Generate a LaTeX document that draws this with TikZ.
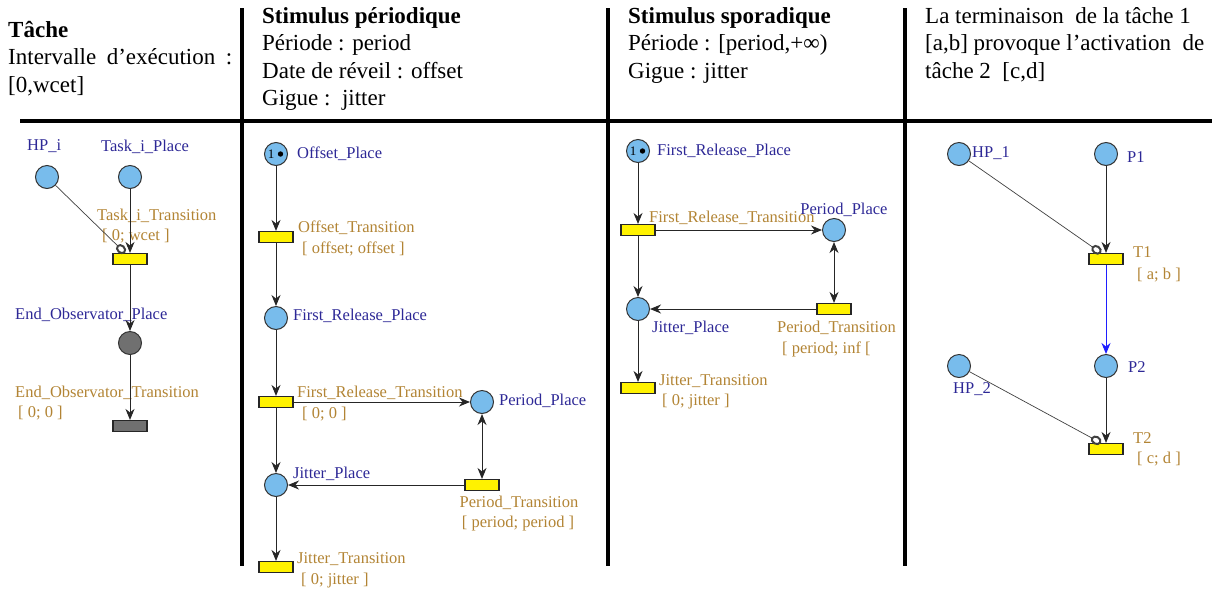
\documentclass[tikz,border=0pt]{standalone}
\usepackage{fontspec}
\setmainfont{Liberation Serif}
\usetikzlibrary{arrows.meta,calc}
\definecolor{placefill}{RGB}{120,188,236}
\definecolor{placetext}{RGB}{45,40,150}
\definecolor{transtext}{RGB}{178,132,52}
\definecolor{obsgray}{RGB}{112,112,112}
\definecolor{arcblue}{RGB}{30,30,255}
\begin{document}
\begin{tikzpicture}[x=1pt,y=-1pt,
  place/.style={circle,draw=black!80,fill=placefill,minimum size=23pt,inner sep=0pt,line width=1pt},
  gplace/.style={place,fill=obsgray},
  trans/.style={rectangle,draw=black!85,fill=yellow,minimum width=34pt,minimum height=11pt,inner sep=0pt,line width=1.1pt},
  gtrans/.style={trans,fill=obsgray},
  plabel/.style={anchor=base west,inner sep=0pt,text=placetext,font=\fontsize{16.5}{19}\selectfont},
  tlabel/.style={plabel,text=transtext},
  arc/.style={-{Stealth[length=11pt,width=9pt,inset=3.5pt]},line width=1pt,black!85},
  barc/.style={arc,arcblue},
  darc/.style={{Stealth[length=11pt,width=9pt,inset=3.5pt]}-{Stealth[length=11pt,width=9pt,inset=3.5pt]},line width=1pt,black!85},
  testarc/.style={-{Circle[open,length=11pt,width=9pt,line width=2pt]},line width=0.7pt,black!75},
  sep/.style={line width=4pt,black},
  head/.style={anchor=base west,inner sep=0pt,font=\fontsize{23}{27}\selectfont},
  token/.style={inner sep=0pt,font=\fontsize{13}{13}\selectfont}
]
\useasboundingbox (0,0) rectangle (1222,595);

% separators
\draw[sep] (20,121) -- (1212,121);
\draw[sep] (242,8) -- (242,566);
\draw[sep] (608,8) -- (608,566);
\draw[sep] (905,8) -- (905,566);

% headers
\node[head,font=\fontsize{23}{27}\selectfont\bfseries] (h1a) at (8,37) {Tâche};
\node[head] (h1b) at (8,64.5) {\hbox to 224pt{Intervalle\hfill d’exécution\hfill :}};
\node[head] (h1c) at (8,92) {[0,wcet]};

\node[head,font=\fontsize{23}{27}\selectfont\bfseries] (h2a) at (262,23) {Stimulus périodique};
\node[head] (h2b) at (262,50.5) {Période : period};
\node[head] (h2c) at (262,78) {Date de réveil : offset};
\node[head] (h2d) at (262,105.5) {Gigue :\ \ jitter};

\node[head,font=\fontsize{23}{27}\selectfont\bfseries] (h3a) at (628,23) {Stimulus sporadique};
\node[head] (h3b) at (628,50.5) {Période : [period,+∞)};
\node[head] (h3c) at (628,78) {Gigue : jitter};

\node[head] (h4a) at (925,23) {La terminaison\ \ de la tâche 1};
\node[head] (h4b) at (925,50.5) {[a,b] provoque l’activation\ \ de};
\node[head] (h4c) at (925,78) {tâche 2\ \ [c,d]};

% ---------- column 1 ----------
\node[place] (hpi) at (47,177) {};
\node[place] (tip) at (130,177) {};
\node[trans] (tit) at (130,259) {};
\node[gplace] (eop) at (130,343) {};
\node[gtrans] (eot) at (130,426) {};
\coordinate (titin) at ($(tit.north)+(-5,0)$);

\node[plabel] (lhpi) at (27,150) {HP\_i};
\node[plabel] (ltip) at (101,151) {Task\_i\_Place};
\node[tlabel] (ltit) at (97,220) {Task\_i\_Transition};
\node[tlabel] (ltit2) at (102,240) {[ 0; wcet ]};
\node[plabel] (leop) at (15,319) {End\_Observator\_Place};
\node[tlabel] (leot) at (15,397) {End\_Observator\_Transition};
\node[tlabel] (leot2) at (18,417) {[ 0; 0 ]};

\draw[testarc] (hpi) -- (titin);
\draw[arc] (tip) -- (tit);
\draw[arc] (tit) -- (eop);
\draw[arc] (eop) -- (eot);

% ---------- column 2 ----------
\node[place] (op) at (276,154) {};
\node[token] (op1) at (271,154) {1};
\fill (280.5,154) circle (2.7);
\node[trans] (ot) at (276,237) {};
\node[place] (frp) at (276,318) {};
\node[trans] (frt) at (276,402) {};
\node[place] (pp) at (482,402) {};
\node[place] (jp) at (276,485) {};
\node[trans] (pt) at (482,485) {};
\node[trans] (jt) at (276,567) {};

\node[plabel] (lop) at (297,158) {Offset\_Place};
\node[tlabel] (lot) at (298,232) {Offset\_Transition};
\node[tlabel] (lot2) at (302,253) {[ offset; offset ]};
\node[plabel] (lfrp) at (293,320) {First\_Release\_Place};
\node[tlabel] (lfrt) at (297,397) {First\_Release\_Transition};
\node[tlabel] (lfrt2) at (302,418) {[ 0; 0 ]};
\node[plabel] (lpp) at (499,405) {Period\_Place};
\node[plabel] (ljp) at (293,478) {Jitter\_Place};
\node[tlabel,anchor=base] (lpt) at (519,507) {Period\_Transition};
\node[tlabel,anchor=base] (lpt2) at (518,527) {[ period; period ]};
\node[tlabel] (ljt) at (297,563) {Jitter\_Transition};
\node[tlabel] (ljt2) at (301,584) {[ 0; jitter ]};

\draw[arc] (op) -- (ot);
\draw[arc] (ot) -- (frp);
\draw[arc] (frp) -- (frt);
\draw[arc] (frt) -- (pp);
\draw[arc] (frt) -- (jp);
\draw[darc] (pp) -- (pt);
\draw[arc] (pt) -- (jp);
\draw[arc] (jp) -- (jt);

% ---------- column 3 ----------
\node[place] (sfrp) at (638,151) {};
\node[token] (sfrp1) at (633,151) {1};
\fill (642.5,151) circle (2.7);
\node[trans] (sfrt) at (638,230) {};
\node[place] (spp) at (834,230) {};
\node[place] (sjp) at (638,309) {};
\node[trans] (spt) at (834,309) {};
\node[trans] (sjt) at (638,388) {};

\node[plabel] (lsfrp) at (657,155) {First\_Release\_Place};
\node[tlabel] (lsfrt) at (649,222) {First\_Release\_Transition};
\node[plabel,anchor=base] (lspp) at (844,214) {Period\_Place};
\node[plabel] (lsjp) at (652,332) {Jitter\_Place};
\node[tlabel] (lspt) at (777,332) {Period\_Transition};
\node[tlabel] (lspt2) at (782,353) {[ period; inf [};
\node[tlabel] (lsjt) at (659,385) {Jitter\_Transition};
\node[tlabel] (lsjt2) at (662,405) {[ 0; jitter ]};

\draw[arc] (sfrp) -- (sfrt);
\draw[arc] (sfrt) -- (spp);
\draw[arc] (sfrt) -- (sjp);
\draw[darc] (spp) -- (spt);
\draw[arc] (spt) -- (sjp);
\draw[arc] (sjp) -- (sjt);

% ---------- column 4 ----------
\node[place] (hp1) at (959,154) {};
\node[place] (p1) at (1106,154) {};
\node[trans] (t1) at (1106,259) {};
\node[place] (hp2) at (959,366) {};
\node[place] (p2) at (1106,366) {};
\node[trans] (t2) at (1106,449) {};
\coordinate (t1in) at ($(t1.north)+(-5,0)$);
\coordinate (t2in) at ($(t2.north)+(-5,0)$);

\node[plabel] (lhp1) at (972,157) {HP\_1};
\node[plabel] (lp1) at (1127,162) {P1};
\node[tlabel] (lt1) at (1133,257) {T1};
\node[tlabel] (lt1b) at (1137,279) {[ a; b ]};
\node[plabel] (lp2) at (1128,372) {P2};
\node[plabel] (lhp2) at (953,393) {HP\_2};
\node[tlabel] (lt2) at (1133,443) {T2};
\node[tlabel] (lt2b) at (1137,463) {[ c; d ]};

\draw[testarc] (hp1) -- (t1in);
\draw[arc] (p1) -- (t1);
\draw[barc] (t1) -- (p2);
\draw[testarc] (hp2) -- (t2in);
\draw[arc] (p2) -- (t2);
\end{tikzpicture}
\end{document}
